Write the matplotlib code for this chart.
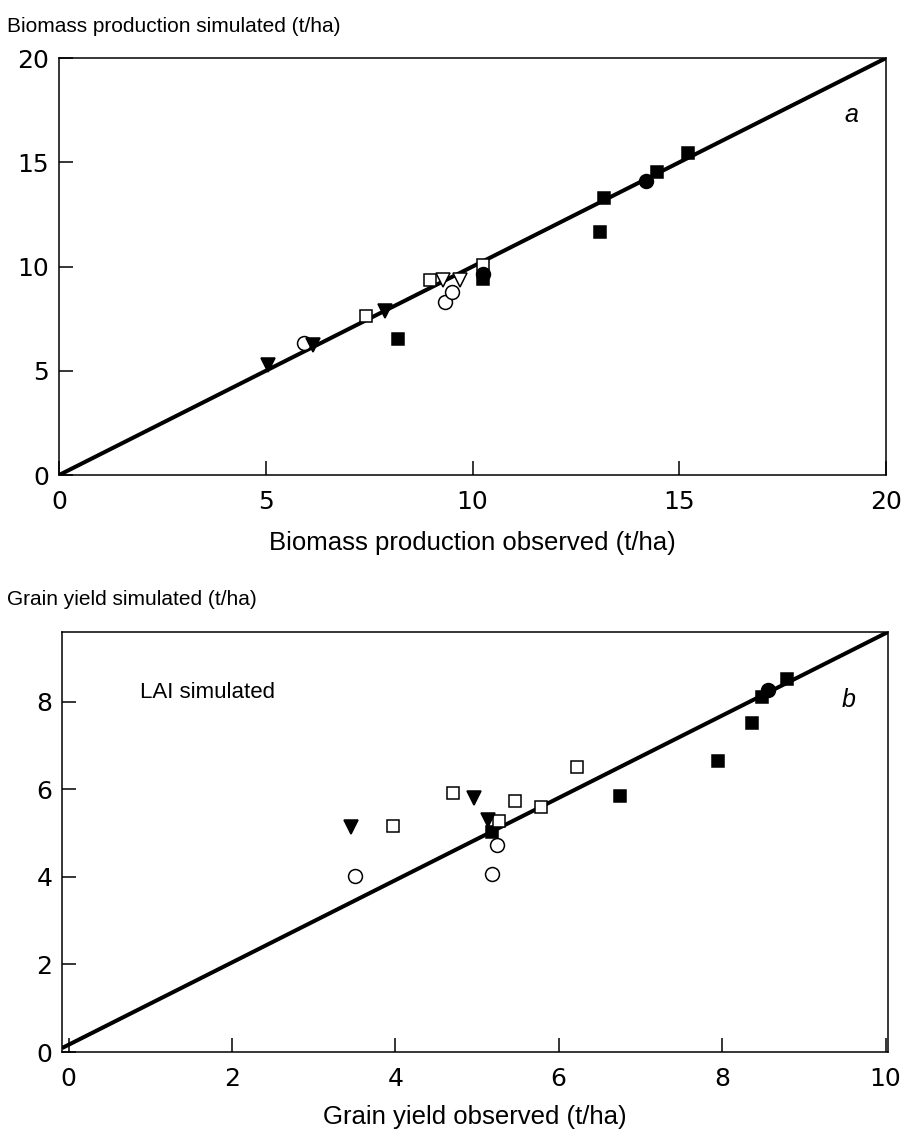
import numpy as np
import matplotlib.pyplot as plt

# panel a: biomass (t/ha), observed vs simulated
a_fsq_x = [8.20, 10.25, 13.18, 13.08, 14.46, 15.21]
a_fsq_y = [6.52, 9.40, 13.29, 11.65, 14.53, 15.44]
a_osq_x = [7.42, 8.97, 10.25]
a_osq_y = [7.63, 9.35, 10.07]
a_fci_x = [10.25, 14.20]
a_fci_y = [9.62, 14.10]
a_oci_x = [5.92, 9.33, 9.50]
a_oci_y = [6.33, 8.30, 8.78]
a_ftr_x = [5.05, 6.14, 7.88]
a_ftr_y = [5.28, 6.24, 7.87]
a_otr_x = [9.29, 9.70]
a_otr_y = [9.35, 9.35]
line_a_x = [0, 20]
line_a_y = [0, 20]

# panel b: grain yield (t/ha)
b_fsq_x = [5.18, 6.75, 7.95, 8.37, 8.49, 8.79]
b_fsq_y = [5.02, 5.84, 6.64, 7.51, 8.11, 8.52]
b_osq_x = [3.97, 4.71, 5.46, 5.78, 5.27, 6.22]
b_osq_y = [5.16, 5.91, 5.73, 5.59, 5.27, 6.51]
b_fci_x = [8.56]
b_fci_y = [8.26]
b_oci_x = [3.51, 5.24, 5.18]
b_oci_y = [4.02, 4.73, 4.06]
b_ftr_x = [3.46, 4.96, 5.13]
b_ftr_y = [5.14, 5.80, 5.30]
line_b_x = [-0.08, 10.03]
line_b_y = [0.09, 9.59]

lab_font = ['Liberation Sans', 'DejaVu Sans']


def draw(ax, fsq, osq, fci, oci, ftr, otr, line):
    ax.plot(line[0], line[1], color='black', lw=2.9, zorder=2, solid_capstyle='butt')
    kw = dict(ls='none', mec='black', mew=1.1, zorder=3)
    ax.plot(fsq[0], fsq[1], marker='s', ms=8.8, mfc='black', **kw)
    ax.plot(osq[0], osq[1], marker='s', ms=8.8, mfc='white', **kw)
    ax.plot(fci[0], fci[1], marker='o', ms=10, mfc='black', **kw)
    ax.plot(oci[0], oci[1], marker='o', ms=10, mfc='white', **kw)
    ax.plot(ftr[0], ftr[1], marker='v', ms=10, mfc='black', **kw)
    if otr is not None:
        ax.plot(otr[0], otr[1], marker='v', ms=10, mfc='white', **kw)
    for s in ax.spines.values():
        s.set_linewidth(1.1)
    ax.tick_params(direction='in', length=10, width=1.1, labelsize=18, top=False, right=False)
    ax.tick_params(axis='y', pad=7)
    ax.tick_params(axis='x', pad=11)


fig = plt.figure(figsize=(9.04, 11.3), dpi=100)

ax1 = fig.add_axes([0.0653, 0.5796, 0.9148, 0.369])
draw(ax1, (a_fsq_x, a_fsq_y), (a_osq_x, a_osq_y), (a_fci_x, a_fci_y),
     (a_oci_x, a_oci_y), (a_ftr_x, a_ftr_y), (a_otr_x, a_otr_y), (line_a_x, line_a_y))
ax1.set_xlim(0, 20)
ax1.set_ylim(0, 20)
ax1.set_xticks([0, 5, 10, 15, 20])
ax1.set_yticks([0, 5, 10, 15, 20])
ax1.set_xlabel('Biomass production observed (t/ha)', fontsize=18.5, family=lab_font, labelpad=12)
ax1.text(0.95, 0.847, 'a', transform=ax1.transAxes, fontsize=18, style='italic', family=lab_font)
fig.text(0.008, 0.972, 'Biomass production simulated (t/ha)', fontsize=15, family=lab_font)

ax2 = fig.add_axes([0.0686, 0.069, 0.9137, 0.3717])
draw(ax2, (b_fsq_x, b_fsq_y), (b_osq_x, b_osq_y), (b_fci_x, b_fci_y),
     (b_oci_x, b_oci_y), (b_ftr_x, b_ftr_y), None, (line_b_x, line_b_y))
ax2.set_xlim(-0.08, 10.03)
ax2.set_ylim(0, 9.59)
ax2.set_xticks([0, 2, 4, 6, 8, 10])
ax2.set_yticks([0, 2, 4, 6, 8])
ax2.set_xlabel('Grain yield observed (t/ha)', fontsize=18.5, family=lab_font, labelpad=10)
ax2.text(0.944, 0.821, 'b', transform=ax2.transAxes, fontsize=18, style='italic', family=lab_font)
ax2.text(0.094, 0.843, 'LAI simulated', transform=ax2.transAxes, fontsize=16, family=lab_font)
fig.text(0.008, 0.465, 'Grain yield simulated (t/ha)', fontsize=15, family=lab_font)

fig.savefig('out.png', dpi=100)
